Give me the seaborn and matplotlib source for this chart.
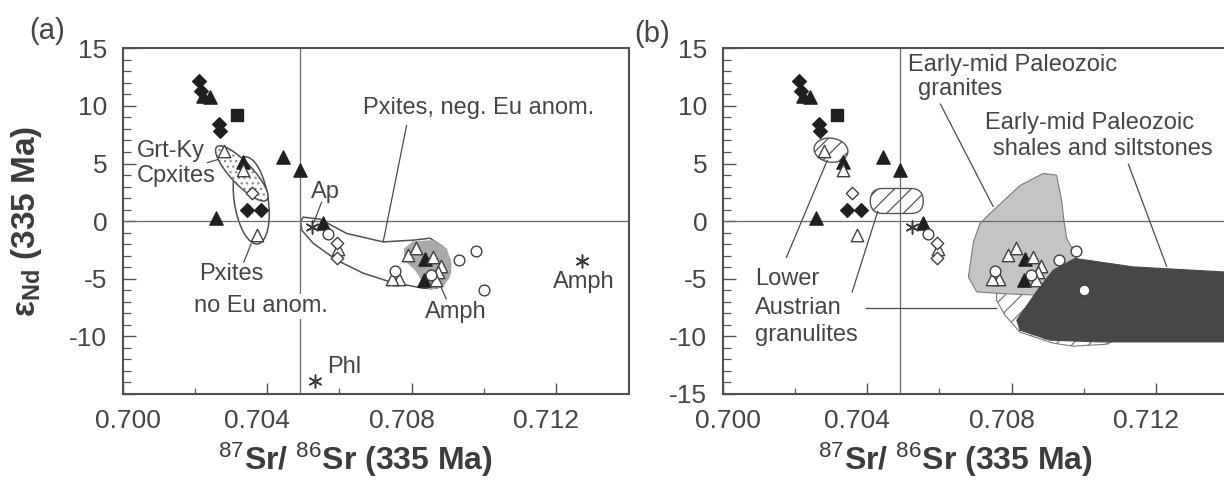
import numpy as np
import pandas as pd
import matplotlib
matplotlib.use("Agg")
import matplotlib.pyplot as plt
import seaborn as sns
from matplotlib.patches import Ellipse, Polygon, FancyBboxPatch
from matplotlib.transforms import ScaledTranslation
import matplotlib.ticker as mticker

# ---------------- data (87Sr/86Sr, eNd at 335 Ma) ----------------
FILLED_DIAMOND_X = [0.70212, 0.70218, 0.70268, 0.70270, 0.70344, 0.70382]
FILLED_DIAMOND_Y = [12.15, 11.3, 8.4, 7.8, 0.95, 0.95]

FILLED_TRIANGLE_X = [0.70222, 0.70242, 0.70334, 0.70445, 0.70491, 0.70259, 0.70555, 0.70838, 0.70834]
FILLED_TRIANGLE_Y = [10.9, 10.8, 5.1, 5.6, 4.4, 0.3, -0.15, -3.3, -5.1]

FILLED_SQUARE_X = [0.70318]
FILLED_SQUARE_Y = [9.25]

OPEN_TRIANGLE_X = [0.70282, 0.70334, 0.70372, 0.70597, 0.70790, 0.70812, 0.70858,
                   0.70880, 0.70872, 0.70868, 0.70765, 0.70745]
OPEN_TRIANGLE_Y = [6.1, 4.4, -1.2, -2.4, -2.9, -2.3, -3.1, -3.9, -4.4, -5.1, -5.0, -5.0]

OPEN_DIAMOND_X = [0.70357, 0.70593, 0.70593]
OPEN_DIAMOND_Y = [2.45, -1.9, -3.2]

OPEN_CIRCLE_X = [0.70569, 0.70755, 0.70852, 0.70932, 0.70978, 0.71000]
OPEN_CIRCLE_Y = [-1.1, -4.3, -4.7, -3.4, -2.6, -5.95]

MINERAL_NAMES = ["Ap", "Amph", "Phl"]
MINERAL_X = [0.70523, 0.71272, 0.70533]
MINERAL_Y = [-0.55, -3.5, -13.9]
MINERAL_IN_B = [True, False, False]

# field outlines (data units)
NEG_EU_X = [0.704929, 0.704993, 0.705463, 0.706202, 0.707206, 0.708036, 0.708506, 0.708866,
            0.709059, 0.709059, 0.708866, 0.708700, 0.708313, 0.707400, 0.706653, 0.705925,
            0.705270, 0.704957]
NEG_EU_Y = [-0.06, 0.35, 0.17, -1.07, -1.80, -1.65, -1.48, -2.23, -3.39, -4.51, -5.38, -5.82,
            -5.82, -5.27, -4.51, -3.39, -1.91, -0.78]

AMPH_FIELD_X = [0.707787, 0.708044, 0.708598, 0.708968, 0.709107, 0.709059, 0.708874,
                0.708506, 0.708321, 0.708091, 0.707787]
AMPH_FIELD_Y = [-2.37, -1.74, -1.65, -2.37, -3.67, -4.84, -5.70, -5.99, -5.41, -4.25, -3.39]

GRANITE_X = [0.70887, 0.70924, 0.70938, 0.70943, 0.70952, 0.70980, 0.70900, 0.70869,
             0.70768, 0.70703, 0.70680, 0.70694, 0.70712, 0.70740, 0.70823]
GRANITE_Y = [4.14, 3.99, 1.82, 0.37, -1.50, -3.10, -6.6, -6.42, -6.28, -6.14, -4.84,
             -1.80, -0.2, 0.67, 3.1]

SHALE_X = [0.70975, 0.71136, 0.71387, 0.71500, 0.71500, 0.71387, 0.71044, 0.70906,
           0.70823, 0.70814, 0.70878, 0.70915]
SHALE_Y = [-3.24, -3.97, -4.41, -4.5, -10.5, -10.48, -10.48, -10.33, -9.46, -8.59, -5.70, -4.25]

GRANULITE_X = [0.70758, 0.70906, 0.71072, 0.71086, 0.71063, 0.70970, 0.70915, 0.70823,
               0.70781, 0.70758]
GRANULITE_Y = [-5.99, -5.56, -6.86, -10.33, -10.68, -10.85, -10.59, -9.64, -8.16, -6.86]

X_TICKS = [0.700, 0.704, 0.708, 0.712]
X_MINOR = [0.702, 0.706, 0.710]
X_LABELS = ["0.700", "0.704", "0.708", "0.712"]
REF_X = 0.70492

# ---------------- style ----------------
sns.set_theme(style="white")
plt.rcParams["font.family"] = ["Liberation Sans", "DejaVu Sans"]
plt.rcParams["mathtext.fontset"] = "custom"
plt.rcParams["mathtext.rm"] = "Liberation Sans"
plt.rcParams["mathtext.bf"] = "Liberation Sans:bold"
plt.rcParams["mathtext.it"] = "Liberation Sans:italic"
plt.rcParams["hatch.linewidth"] = 0.9

INK = "#3c3c3c"
TXT = "#454545"
DARK = "#1f1f1f"

fig = plt.figure(figsize=(12.24, 4.83), dpi=100)
axA = fig.add_axes([0.1001, 0.1843, 0.4135, 0.7157])
axB = fig.add_axes([0.5903, 0.1843, 0.4135, 0.7157])


def pts(ax, xs, ys, marker, s, fc, ec=None, lw=1.0):
    kw = dict(x=xs, y=ys, ax=ax, marker=marker, s=s, color=fc, linewidth=lw,
              zorder=6, legend=False)
    if ec is not None:
        kw["edgecolor"] = ec
    sns.scatterplot(**kw)


def ellipse(ax, cx, cy, w_in, h_in, angle, **kw):
    tr = fig.dpi_scale_trans + ScaledTranslation(cx, cy, ax.transData)
    e = Ellipse((0, 0), w_in, h_in, angle=angle, transform=tr, **kw)
    ax.add_patch(e)


def capsule(ax, cx, cy, w_in, h_in, **kw):
    tr = fig.dpi_scale_trans + ScaledTranslation(cx, cy, ax.transData)
    b = FancyBboxPatch((-w_in / 2, -h_in / 2), w_in, h_in,
                       boxstyle="round,pad=0,rounding_size=%f" % (h_in / 2),
                       transform=tr, **kw)
    ax.add_patch(b)


def poly(ax, xs, ys, **kw):
    ax.add_patch(Polygon(np.column_stack([xs, ys]), closed=True, **kw))


def leader(ax, x0, y0, x1, y1):
    ax.plot([x0, x1], [y0, y1], color="#4a4a4a", lw=0.9, zorder=3, solid_capstyle="butt")


def note(ax, x, y, s, **kw):
    kw.setdefault("ha", "left")
    kw.setdefault("va", "center")
    ax.text(x, y, s, fontsize=17, color=TXT, zorder=7, **kw)


def frame(ax, show_m15):
    ax.set_xlim(0.700, 0.714)
    ax.set_ylim(-15, 15)
    ax.xaxis.set_major_locator(mticker.FixedLocator(X_TICKS))
    ax.xaxis.set_minor_locator(mticker.FixedLocator(X_MINOR))
    ax.xaxis.set_major_formatter(mticker.FixedFormatter(X_LABELS))
    ax.yaxis.set_major_locator(mticker.MultipleLocator(5))
    ax.yaxis.set_minor_locator(mticker.MultipleLocator(1))
    ax.yaxis.set_major_formatter(mticker.FuncFormatter(
        lambda v, p: "" if (v < -14 and not show_m15) else "%d" % round(v)))
    ax.tick_params(which="major", direction="in", color="#555", width=1.0,
                   labelsize=19, labelcolor=TXT, pad=11,
                   top=False, right=False, bottom=True, left=True)
    ax.tick_params(axis="x", which="major", length=8)
    ax.tick_params(axis="y", which="major", length=9.5)
    ax.tick_params(which="minor", direction="in", color="#555", width=0.9,
                   top=False, right=False, bottom=True, left=True)
    ax.tick_params(axis="x", which="minor", length=4.5)
    ax.tick_params(axis="y", which="minor", length=5.5)
    for sp in ax.spines.values():
        sp.set_color("#505050")
        sp.set_linewidth(1.5)
    ax.axvline(REF_X, color="#6a6a6a", lw=0.9, zorder=2.5)
    ax.axhline(0, color="#6a6a6a", lw=0.9, zorder=2.5)
    ax.set_xlabel(r"$^{87}$Sr/ $^{86}$Sr (335 Ma)", fontsize=23, fontweight="bold", color=INK)
    ax.xaxis.set_label_coords(0.46, -0.135)
    labs = ax.get_xticklabels()
    shifts = [0.05, -0.10, -0.10, -0.10]
    for lab, dx in zip(labs, shifts):
        lab.set_transform(lab.get_transform() + ScaledTranslation(dx, 0, fig.dpi_scale_trans))


def common_points(ax, panel):
    pts(ax, FILLED_DIAMOND_X, FILLED_DIAMOND_Y, "D", 48, DARK, DARK)
    pts(ax, FILLED_TRIANGLE_X, FILLED_TRIANGLE_Y, "^", 90, DARK, DARK)
    pts(ax, FILLED_SQUARE_X, FILLED_SQUARE_Y, "s", 80, DARK, DARK)
    pts(ax, OPEN_TRIANGLE_X, OPEN_TRIANGLE_Y, "^", 80, "white", "#404040", 1.0)
    pts(ax, OPEN_DIAMOND_X, OPEN_DIAMOND_Y, "D", 40, "white", "#404040", 1.0)
    pts(ax, OPEN_CIRCLE_X, OPEN_CIRCLE_Y, "o", 60, "white", "#404040", 1.0)
    mx = [x for x, b in zip(MINERAL_X, MINERAL_IN_B) if panel == "a" or b]
    my = [y for y, b in zip(MINERAL_Y, MINERAL_IN_B) if panel == "a" or b]
    pts(ax, mx, my, (6, 2, 0), 85, "#3a3a3a", None, 1.1)


# ---------------- panel (a) ----------------
frame(axA, False)
poly(axA, NEG_EU_X, NEG_EU_Y, facecolor="white", edgecolor="#505050", lw=1.1, zorder=2,
     joinstyle="round")
poly(axA, AMPH_FIELD_X, AMPH_FIELD_Y, facecolor="#a9a9a9", edgecolor="none", zorder=2.2)
ellipse(axA, 0.70356, 1.8, 0.88, 0.34, 98.5, facecolor="none", edgecolor="#505050", lw=1.1, zorder=2)
ellipse(axA, 0.70330, 4.14, 0.73, 0.22, -46.7, facecolor="white", edgecolor="#8a8a8a",
        lw=0, hatch="...", zorder=2.1)
ellipse(axA, 0.70330, 4.14, 0.73, 0.22, -46.7, facecolor="none", edgecolor="#505050",
        lw=1.1, zorder=2.2)
common_points(axA, "a")

note(axA, 0.70040, 6.1, "Grt-Ky")
note(axA, 0.70040, 3.9, "Cpxites")
leader(axA, 0.70233, 5.06, 0.70265, 5.36)
note(axA, 0.70560, 2.5, "Ap", ha="center")
leader(axA, 0.70551, 1.68, 0.70528, -0.2)
note(axA, 0.70666, 9.85, "Pxites, neg. Eu anom.")
leader(axA, 0.70786, 8.33, 0.70721, -1.8)
note(axA, 0.70213, -4.6, "Pxites")
note(axA, 0.70198, -7.4, "no Eu anom.",
     bbox=dict(facecolor="white", edgecolor="none", pad=1.0))
leader(axA, 0.70335, -3.6, 0.70356, -1.95)
note(axA, 0.70923, -7.9, "Amph", ha="center")
leader(axA, 0.70896, -6.8, 0.70868, -4.8)
note(axA, 0.71276, -5.3, "Amph", ha="center")
note(axA, 0.70566, -12.7, "Phl")

axA.set_ylabel(r"ε$_{\mathbf{Nd}}$ (335 Ma)", fontsize=24, fontweight="bold", color=INK)
axA.yaxis.set_label_coords(-0.155, 0.5)

# ---------------- panel (b) ----------------
frame(axB, True)
axB.set_ylabel("")
poly(axB, GRANULITE_X, GRANULITE_Y, facecolor="white", edgecolor="#7a7a7a", lw=0.8,
     hatch="//", zorder=1.5)
poly(axB, GRANITE_X, GRANITE_Y, facecolor="#c4c4c4", edgecolor="#7a7a7a", lw=0.8, zorder=1.8)
poly(axB, SHALE_X, SHALE_Y, facecolor="#474747", edgecolor="#474747", lw=0.8, zorder=2.0)
ellipse(axB, 0.70300, 6.16, 0.34, 0.24, -8, facecolor="white", edgecolor="#555",
        lw=1.0, hatch="//", zorder=2.2)
capsule(axB, 0.70482, 1.75, 0.53, 0.25, facecolor="white", edgecolor="#555",
        lw=1.0, hatch="//", zorder=2.2)
common_points(axB, "b")

note(axB, 0.70513, 13.55, "Early-mid Paleozoic")
note(axB, 0.70541, 11.5, "granites")
leader(axB, 0.70602, 10.2, 0.70749, 1.24)
note(axB, 0.70726, 8.55, "Early-mid Paleozoic")
note(axB, 0.70747, 6.3, "shales and siltstones")
leader(axB, 0.71122, 5.0, 0.71229, -3.97)
note(axB, 0.70089, -5.0, "Lower")
note(axB, 0.70089, -7.5, "Austrian")
note(axB, 0.70089, -9.85, "granulites")
leader(axB, 0.70176, -3.2, 0.70290, 5.3)
leader(axB, 0.70358, -6.2, 0.70430, 0.9)
leader(axB, 0.70393, -7.55, 0.70760, -7.55)

fig.text(47 / 1224, 1 - 31 / 483, "(a)", ha="center", va="center", fontsize=21, color=TXT)
fig.text(652 / 1224, 1 - 34 / 483, "(b)", ha="center", va="center", fontsize=21, color=TXT)

fig.savefig("out.png", dpi=100, facecolor="white")
